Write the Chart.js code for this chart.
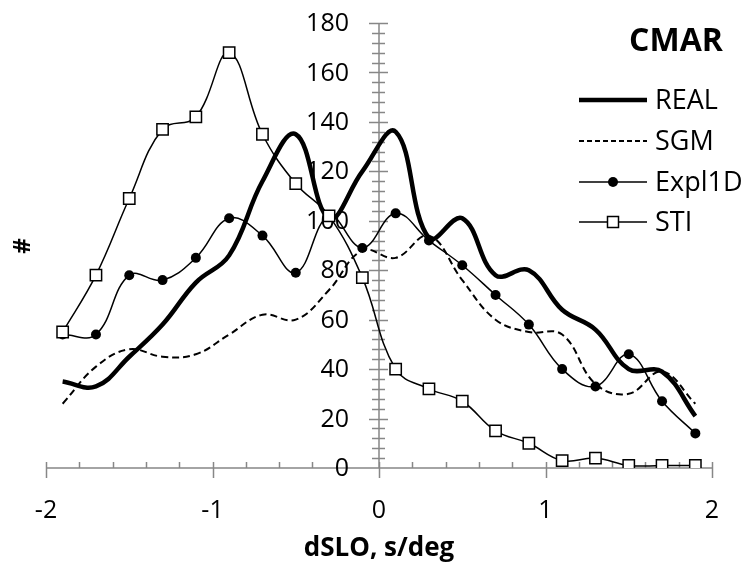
<!DOCTYPE html>
<html>
<head>
<meta charset="utf-8">
<script src="https://cdn.jsdelivr.net/npm/chart.js@4"></script>
<style>
  html, body { margin: 0; padding: 0; background: #fff; }
  #wrap { width: 748px; height: 567px; }
</style>
</head>
<body>
<div id="wrap"><canvas id="cmarChart" width="748" height="567"></canvas></div>
<script>
// dSLO bins (s/deg) and counts per model
const dslo = [-1.9, -1.7, -1.5, -1.3, -1.1, -0.9, -0.7, -0.5, -0.3, -0.1, 0.1, 0.3, 0.5, 0.7, 0.9, 1.1, 1.3, 1.5, 1.7, 1.9];
const realCounts = [35, 33, 45, 58, 75, 86, 116, 135, 101, 120, 136, 93, 101, 78, 80, 64, 56, 40, 39, 21];
const sgmCounts = [26, 41, 48, 45, 46, 54, 62, 60, 72, 88, 85, 94, 76, 60, 55, 54, 34, 30, 39, 26];
const expl1dCounts = [54, 54, 78, 76, 85, 101, 94, 79, 102, 89, 103, 92, 82, 70, 58, 40, 33, 46, 27, 14];
const stiCounts = [55, 78, 109, 137, 142, 168, 135, 115, 102, 77, 40, 32, 27, 15, 10, 3, 4, 1, 1, 1];

const xTicks = [-2, -1, 0, 1, 2];
const yTicks = [0, 20, 40, 60, 80, 100, 120, 140, 160, 180];

const FONT = '"Open Sans", "DejaVu Sans", sans-serif';
const AXIS_GREY = '#878787';

const pts = arr => arr.map((v, i) => ({ x: dslo[i], y: v }));

// axes crossing at x=0 / y=0 with Excel style major + minor ticks
const crossAxes = {
  id: 'crossAxes',
  beforeDatasetsDraw(chart) {
    const { ctx, scales: { x, y } } = chart;
    const x0 = x.getPixelForValue(0);
    const y0 = y.getPixelForValue(0);
    ctx.save();
    ctx.strokeStyle = AXIS_GREY;
    ctx.lineWidth = 1.5;
    ctx.beginPath();
    ctx.moveTo(x.getPixelForValue(-2), y0);
    ctx.lineTo(x.getPixelForValue(2), y0);
    ctx.moveTo(x0, y0);
    ctx.lineTo(x0, y.getPixelForValue(180));
    // x minor every 0.2, major every 1
    for (let k = -10; k <= 10; k++) {
      const px = Math.round(x.getPixelForValue(k / 5)) + 0.5;
      if (k % 5 === 0) { ctx.moveTo(px, y0 - 6); ctx.lineTo(px, y0 + 10); }
      else { ctx.moveTo(px, y0 - 6); ctx.lineTo(px, y0); }
    }
    // y minor every 4, major every 20
    for (let v = 4; v <= 180; v += 4) {
      const py = Math.round(y.getPixelForValue(v)) + 0.5;
      if (v % 20 === 0) { ctx.moveTo(x0 - 10, py); ctx.lineTo(x0 + 9, py); }
      else { ctx.moveTo(x0 - 7, py); ctx.lineTo(x0 + 6, py); }
    }
    ctx.stroke();

    // y tick labels, right aligned left of the axis
    ctx.fillStyle = '#000';
    ctx.font = '25px ' + FONT;
    ctx.textAlign = 'right';
    ctx.textBaseline = 'middle';
    yTicks.forEach(v => ctx.fillText(String(v), x0 - 30, y.getPixelForValue(v) + 1));

    // y axis title
    ctx.font = 'bold 24px ' + FONT;
    ctx.translate(23, 246);
    ctx.rotate(-Math.PI / 2);
    ctx.textAlign = 'center';
    ctx.fillText('#', 0, 0);
    ctx.restore();
  }
};

// legend + CMAR label, drawn inside the plot on the right
const cmarLegend = {
  id: 'cmarLegend',
  afterDatasetsDraw(chart) {
    const { ctx } = chart;
    ctx.save();
    ctx.fillStyle = '#000';
    ctx.font = 'bold 32px ' + FONT;
    ctx.textAlign = 'center';
    ctx.textBaseline = 'middle';
    ctx.fillText('CMAR', 676, 42);

    const x1 = 579, x2 = 647, tx = 655;
    const rows = [
      { label: 'REAL', y: 100, width: 4.5, dash: [], marker: null },
      { label: 'SGM', y: 141, width: 2, dash: [5, 3], marker: null },
      { label: 'Expl1D', y: 182, width: 1.5, dash: [], marker: 'circle' },
      { label: 'STI', y: 222, width: 1.5, dash: [], marker: 'rect' },
    ];
    ctx.font = '27px ' + FONT;
    ctx.textAlign = 'left';
    rows.forEach(r => {
      ctx.strokeStyle = '#000';
      ctx.lineWidth = r.width;
      ctx.setLineDash(r.dash);
      ctx.beginPath();
      ctx.moveTo(x1, r.y);
      ctx.lineTo(x2, r.y);
      ctx.stroke();
      ctx.setLineDash([]);
      const mx = (x1 + x2) / 2;
      if (r.marker === 'circle') {
        ctx.beginPath();
        ctx.arc(mx, r.y, 5, 0, Math.PI * 2);
        ctx.fill();
      } else if (r.marker === 'rect') {
        ctx.fillStyle = '#fff';
        ctx.fillRect(mx - 5.5, r.y - 5.5, 11, 11);
        ctx.lineWidth = 1.5;
        ctx.strokeRect(mx - 5.5, r.y - 5.5, 11, 11);
        ctx.fillStyle = '#000';
      }
      ctx.fillText(r.label, tx, r.y + 1);
    });
    ctx.restore();
  }
};

new Chart(document.getElementById('cmarChart'), {
  type: 'line',
  data: {
    datasets: [
      { label: 'REAL', data: pts(realCounts), borderColor: '#000', borderWidth: 4.5, pointRadius: 0, tension: 0.4, order: 4 },
      { label: 'SGM', data: pts(sgmCounts), borderColor: '#000', borderWidth: 2, borderDash: [7, 4], pointRadius: 0, tension: 0.4, order: 3 },
      { label: 'Expl1D', data: pts(expl1dCounts), borderColor: '#000', borderWidth: 1.5, pointRadius: 5, pointStyle: 'circle',
        pointBackgroundColor: '#000', pointBorderColor: '#000', pointBorderWidth: 0, tension: 0.4, order: 2 },
      { label: 'STI', data: pts(stiCounts), borderColor: '#000', borderWidth: 1.5, pointRadius: 8, pointStyle: 'rect',
        pointBackgroundColor: '#fff', pointBorderColor: '#000', pointBorderWidth: 1.5, tension: 0.4, order: 1 },
    ],
  },
  options: {
    responsive: false,
    animation: false,
    devicePixelRatio: 1,
    layout: { padding: { left: 46, right: 36, top: 23, bottom: 0 } },
    plugins: { legend: { display: false }, tooltip: { enabled: false } },
    scales: {
      x: {
        type: 'linear', min: -2, max: 2,
        afterFit: s => { s.height = 99; },
        afterBuildTicks: s => { s.ticks = xTicks.map(v => ({ value: v })); },
        grid: { display: false, drawTicks: false },
        border: { display: false },
        ticks: { color: '#000', padding: 28, maxRotation: 0, font: { family: FONT, size: 25 } },
        title: { display: true, text: 'dSLO, s/deg', color: '#000', padding: { top: 0, bottom: 3 },
          font: { family: FONT, size: 26, weight: 'bold', lineHeight: 1.2 } },
      },
      y: {
        type: 'linear', min: 0, max: 180, display: false,
      },
    },
  },
  plugins: [crossAxes, cmarLegend],
});
</script>
</body>
</html>
